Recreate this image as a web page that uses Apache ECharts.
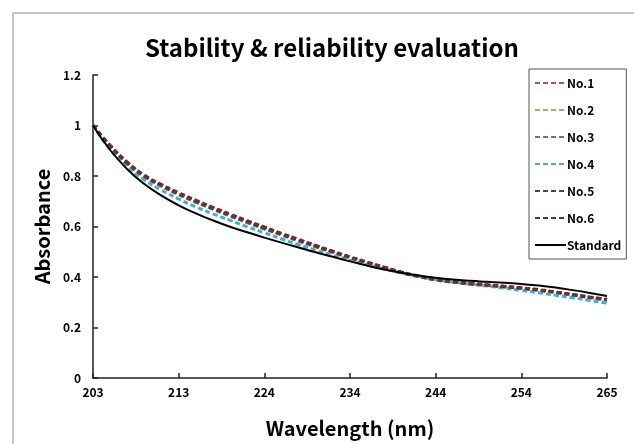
<!DOCTYPE html>
<html>
<head>
<meta charset="utf-8">
<script src="https://cdn.jsdelivr.net/npm/echarts@6/dist/echarts.min.js"></script>
<style>html,body{margin:0;padding:0;background:#fff}#c{width:634px;height:444px}</style>
</head>
<body>
<div id="c"></div>
<script>
var wavelengths = [203,205,207,209,211,213,215,217,220,222,224,226,228,230,232,234,236,238,240,242,244,246,248,250,252,254,257,259,261,263,265];
var yTicks = [0,0.2,0.4,0.6,0.8,1,1.2];
var seriesNames = ['No.1','No.2','No.3','No.4','No.5','No.6','Standard'];
var seriesColors = ['#C0504D','#9BBB59','#8064A2','#4BACC6','#2C4D75','#772C2A','#000000'];

var no1 = [1.000,0.917,0.849,0.798,0.760,0.727,0.697,0.669,0.642,0.616,0.591,0.567,0.543,0.520,0.498,0.476,0.456,0.437,0.418,0.402,0.389,0.380,0.373,0.367,0.361,0.355,0.348,0.339,0.329,0.319,0.309];
var no2 = [1.000,0.916,0.848,0.797,0.759,0.726,0.696,0.668,0.641,0.615,0.590,0.566,0.542,0.519,0.497,0.475,0.455,0.436,0.417,0.401,0.388,0.379,0.372,0.366,0.360,0.354,0.347,0.338,0.328,0.318,0.308];
var no3 = [1.000,0.921,0.854,0.802,0.764,0.732,0.702,0.674,0.647,0.621,0.596,0.571,0.547,0.524,0.501,0.479,0.458,0.438,0.419,0.403,0.390,0.381,0.374,0.368,0.362,0.356,0.349,0.340,0.330,0.320,0.311];
var no4 = [1.000,0.905,0.836,0.784,0.744,0.709,0.678,0.650,0.624,0.599,0.575,0.551,0.528,0.506,0.486,0.467,0.449,0.432,0.416,0.402,0.390,0.380,0.372,0.364,0.356,0.347,0.338,0.328,0.318,0.307,0.297];
var no5 = [1.000,0.918,0.850,0.799,0.761,0.728,0.698,0.670,0.643,0.617,0.592,0.568,0.544,0.521,0.499,0.477,0.457,0.437,0.418,0.402,0.389,0.380,0.373,0.367,0.361,0.355,0.348,0.339,0.329,0.319,0.310];
var no6 = [1.000,0.922,0.855,0.803,0.766,0.734,0.704,0.676,0.649,0.623,0.598,0.573,0.549,0.525,0.502,0.480,0.459,0.439,0.420,0.404,0.391,0.382,0.375,0.369,0.363,0.357,0.350,0.341,0.331,0.321,0.312];
var standard = [1.000,0.903,0.827,0.768,0.722,0.684,0.652,0.624,0.599,0.577,0.556,0.536,0.517,0.498,0.480,0.462,0.445,0.430,0.417,0.406,0.397,0.390,0.385,0.381,0.377,0.372,0.366,0.358,0.348,0.337,0.325];

var allData = [no1,no2,no3,no4,no5,no6,standard];
var FONT = '"Noto Sans CJK KR", "Noto Sans", sans-serif';

var series = allData.map(function(d, k){
  var isStd = k === 6;
  return {
    name: seriesNames[k],
    type: 'line',
    data: d,
    showSymbol: false,
    symbol: 'none',
    smooth: true,
    z: isStd ? 3 : 2,
    color: seriesColors[k],
    lineStyle: {
      color: seriesColors[k],
      width: isStd ? 2 : 3,
      type: isStd ? 'solid' : [5,3]
    }
  };
});

var chart = echarts.init(document.getElementById('c'), null, {renderer:'canvas'});
chart.setOption({
  backgroundColor: '#ffffff',
  animation: false,
  graphic: [{
    type: 'rect', left: 10.5, top: 10.5, silent: true,
    shape: {x:0, y:0, width: 700, height: 500},
    style: {fill: 'none', stroke: '#8c8c8c', lineWidth: 1}
  }],
  title: {
    text: 'Stability & reliability evaluation',
    left: 140, top: 31,
    textStyle: {fontFamily: FONT, fontSize: 24, fontWeight: 'bold', color: '#000'}
  },
  legend: {
    orient: 'vertical',
    left: 529, top: 69,
    padding: [8, 5, 8, 5],
    itemGap: 15,
    itemWidth: 31,
    itemHeight: 13,
    borderColor: '#555', borderWidth: 1,
    data: seriesNames,
    itemStyle: {opacity: 0, borderWidth: 0},
    lineStyle: {width: 2},
    textStyle: {fontFamily: FONT, fontSize: 12, fontWeight: 'bold', color: '#000', padding: [0,0,0,-4]}
  },
  grid: {left: 93, right: 27, top: 75, bottom: 66},
  xAxis: {
    type: 'category',
    data: wavelengths,
    boundaryGap: false,
    name: 'Wavelength (nm)',
    nameLocation: 'middle',
    nameGap: 40,
    nameTextStyle: {fontFamily: FONT, fontSize: 20, fontWeight: 'bold', color: '#000'},
    axisLine: {lineStyle: {color: '#222', width: 1.5}},
    axisTick: {inside: true, length: 5, interval: 4, lineStyle: {color: '#222', width: 1.5}},
    axisLabel: {interval: 4, margin: 8, fontFamily: FONT, fontSize: 12, fontWeight: 'bold', color: '#000'},
    splitLine: {show: false}
  },
  yAxis: {
    type: 'value',
    min: yTicks[0], max: yTicks[yTicks.length-1], interval: 0.2,
    name: 'Absorbance',
    nameLocation: 'middle',
    nameGap: 41,
    nameRotate: 90,
    nameTextStyle: {fontFamily: FONT, fontSize: 20, fontWeight: 'bold', color: '#000'},
    axisLine: {show: true, lineStyle: {color: '#222', width: 1.5}},
    axisTick: {show: true, inside: true, length: 5, lineStyle: {color: '#222', width: 1.5}},
    axisLabel: {margin: 12, fontFamily: FONT, fontSize: 12, fontWeight: 'bold', color: '#000'},
    splitLine: {show: false}
  },
  series: series
});
</script>
</body>
</html>
